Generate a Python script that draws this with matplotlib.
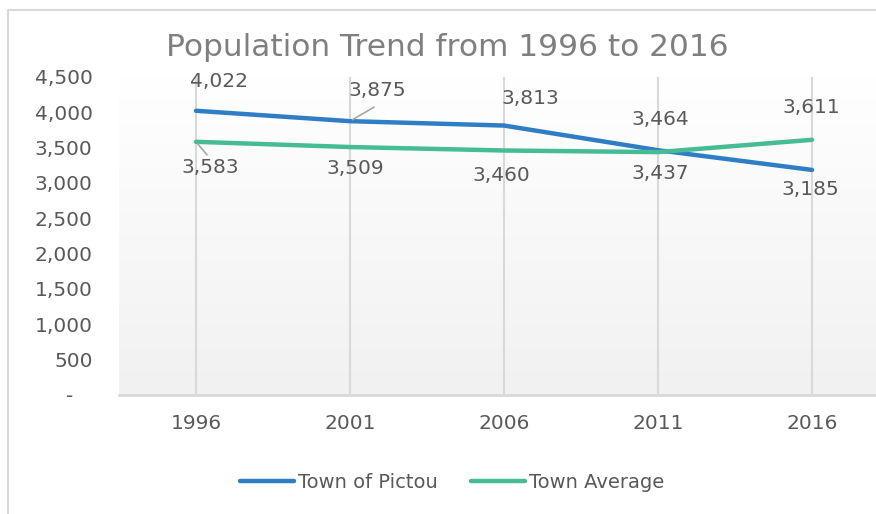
import numpy as np
import matplotlib; matplotlib.use("Agg"); import matplotlib.pyplot as plt
from matplotlib.lines import Line2D
from matplotlib.ticker import FuncFormatter

plt.rcParams['font.family'] = ['DejaVu Sans']

years = ["1996", "2001", "2006", "2011", "2016"]
pictou = [4022, 3875, 3813, 3464, 3185]
average = [3583, 3509, 3460, 3437, 3611]

BLUE = "#2e7dc5"; GREEN = "#45bc93"; TXT = "#595959"; GRID = "#d9d9d9"

W, H = 876, 514
fig = plt.figure(figsize=(W/100, H/100), dpi=100)
# outer chart frame: only left and top edges are inside the image
fig.add_artist(Line2D([8/W, 8/W, 1.0], [0.0, (H-10)/H, (H-10)/H], transform=fig.transFigure,
                      color=GRID, lw=1.5))
ax = fig.add_axes([119/W, (H-395)/H, 770/W, 318/H])
x = np.arange(len(years))
ax.set_xlim(-0.5, len(years)-0.5); ax.set_ylim(0, 4500)

# plot-area gradient, white at top to light grey at bottom
grad = np.linspace(1.0, 0.945, 256).reshape(-1, 1)
ax.imshow(np.dstack([grad]*3), extent=(-0.5, len(years)-0.5, 0, 4500), aspect="auto",
          origin="upper", zorder=0)
for xi in x:
    ax.axvline(xi, color=GRID, lw=1.5, zorder=1)

ax.plot(x, pictou, color=BLUE, lw=3.2, solid_capstyle="round", label="Town of Pictou", zorder=3)
ax.plot(x, average, color=GREEN, lw=3.2, solid_capstyle="round", label="Town Average", zorder=3)

FS = 14.5
# data labels: offsets in pixels from each point
p_off = [(23, 29), (27, 31), (26, 27), (2, 31), (-2, -20)]
a_off = [(14, -26), (5, -21), (-3, -25), (2, -21), (-1, 32)]
for series, offs in [(pictou, p_off), (average, a_off)]:
    for xi, v, (dx, dy) in zip(x, series, offs):
        ax.annotate(f"{v:,}", (xi, v), xytext=(dx, dy), textcoords="offset pixels",
                    ha="center", va="center", fontsize=FS, color=TXT, zorder=4)
# leader lines
for xi, v, (dx, dy) in [(1, pictou[1], (24, 14)), (0, average[0], (11, -13))]:
    ax.annotate("", (xi, v), xytext=(dx, dy), textcoords="offset pixels",
                arrowprops=dict(arrowstyle="-", color="#a6a6a6", lw=1.2, shrinkA=0, shrinkB=2))

ax.set_xticks(x, years)
ax.set_yticks(np.arange(0, 4501, 500))
ax.yaxis.set_major_formatter(FuncFormatter(lambda v, p: "-   " if v == 0 else f"{int(v):,}"))
ax.tick_params(axis="both", length=0, labelsize=FS, labelcolor=TXT)
ax.tick_params(axis="y", pad=19)
ax.tick_params(axis="x", pad=14)
for s in ["top", "right", "left"]:
    ax.spines[s].set_visible(False)
ax.spines["bottom"].set_color(GRID); ax.spines["bottom"].set_linewidth(2)

fig.text(447/W, 1 - 48/H, "Population Trend from 1996 to 2016", ha="center", va="center",
         fontsize=22.5, color="#7f7f7f")
fig.legend(loc="center", bbox_to_anchor=(452/W, 1 - 482/H), ncol=2, frameon=False,
           fontsize=14, labelcolor=TXT, handlelength=2.8, handletextpad=0.2,
           columnspacing=1.7)

fig.savefig("out.png", dpi=100)
